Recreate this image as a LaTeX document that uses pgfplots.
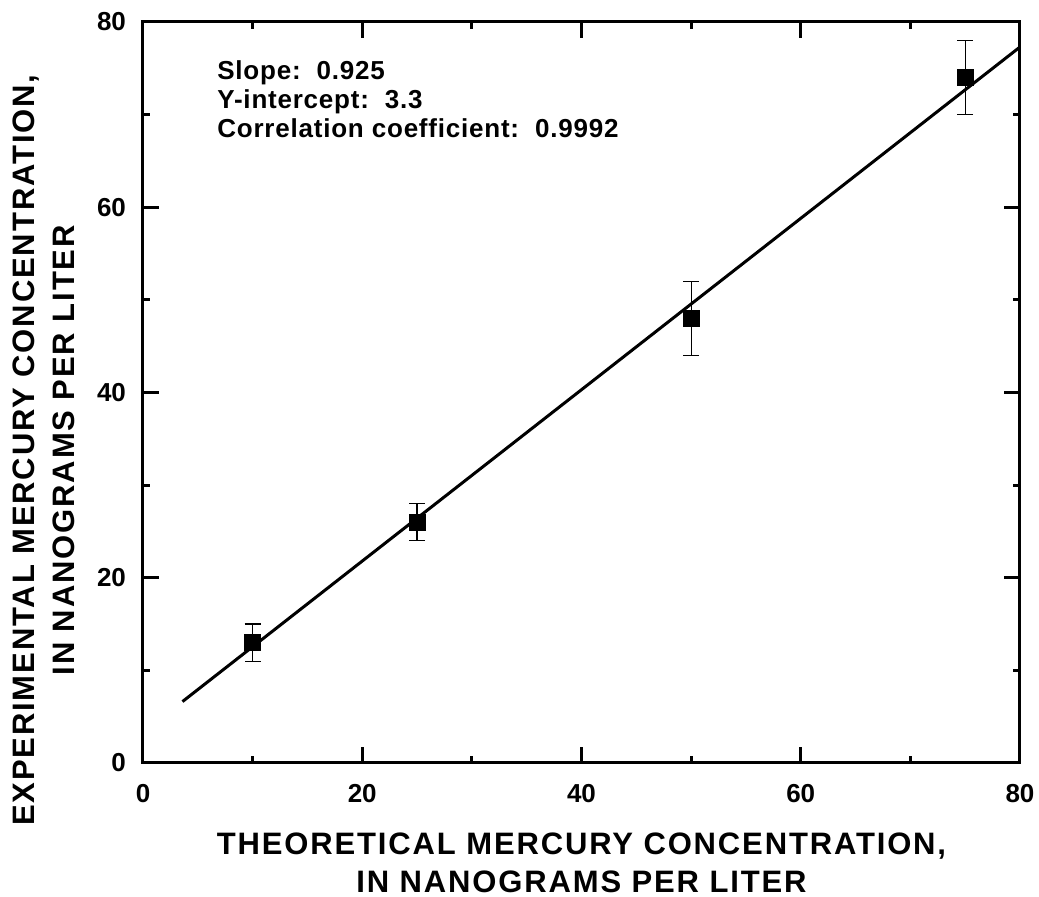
\documentclass[border=0pt]{standalone}
\usepackage{fontspec}
\setmainfont{Liberation Sans}
\newfontfamily\labfont[LetterSpace=6]{Liberation Sans}
\newfontfamily\annfont[LetterSpace=3]{Liberation Sans}
\usepackage{pgfplots}
\pgfplotsset{compat=1.18}
\begin{document}
\begin{tikzpicture}
\useasboundingbox (-71.5pt,-67pt) rectangle (448pt,381.5pt);
\begin{axis}[
  at={(0,0)}, anchor=south west,
  scale only axis,
  width=438.5pt, height=370.5pt,
  xmin=0, xmax=80, ymin=0, ymax=80,
  xtick={0,20,40,60,80}, ytick={0,20,40,60,80},
  minor x tick num=1, minor y tick num=1,
  tick pos=both, tick align=inside,
  major tick length=8pt, minor tick length=3.5pt,
  every tick/.style={black, line width=1.4pt},
  axis line style={line width=1.5pt},
  /pgf/number format/assume math mode=true,
  ticklabel style={font=\fontsize{13}{13}\selectfont\bfseries},
  xticklabel style={yshift=-7pt},
  yticklabel style={xshift=-5pt},
  xlabel={THEORETICAL MERCURY CONCENTRATION,\\IN NANOGRAMS PER LITER},
  ylabel={EXPERIMENTAL MERCURY CONCENTRATION,\\IN NANOGRAMS PER LITER},
  xlabel style={at={(axis description cs:0.5,-0.0931)}, anchor=north, inner sep=0pt, align=center, font=\fontsize{15.5}{19}\labfont\bfseries},
  ylabel style={at={(axis description cs:-0.1494,0.422)}, anchor=north, inner sep=0pt, align=center, font=\fontsize{15.5}{20}\labfont\bfseries},
  clip=true,
]
\addplot[black, line width=1.5pt, no marks] coordinates {(3.6,6.63) (80,77.3)};
\addplot[black, only marks, mark=square*, mark size=4pt,
  error bars/.cd, y dir=both, y explicit,
  error mark=|,
  error bar style={line width=0.6pt, black},
  error mark options={black, mark size=4pt, line width=0.6pt}]
  coordinates {
  (10,13) +- (0,2)
  (25,26) +- (0,2)
  (50,48) +- (0,4)
  (75,74) +- (0,4)
};
\node[anchor=north west, align=left, inner sep=0pt, font=\fontsize{13}{14.5}\annfont\bfseries] at (axis cs:6.75,75.9)
  {Slope:\ \ 0.925\\Y-intercept:\ \ 3.3\\Correlation coefficient:\ \ 0.9992};
\end{axis}
\end{tikzpicture}
\end{document}
